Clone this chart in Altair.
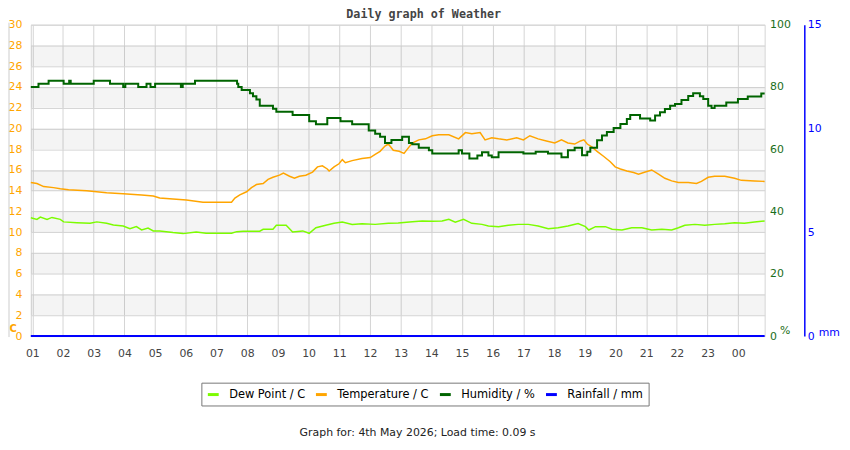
import pandas as pd
import altair as alt

## Readings, hour of day (1 = 01:00 ... 24 = 00:00 next day)
temp_hours = [0.95, 1.15, 1.37, 1.69, 1.91, 2.18, 2.77, 3.42, 3.96, 4.56,
              4.94, 5.15, 5.58, 6.02, 6.56, 7.49, 7.60, 7.76, 7.98, 8.14,
              8.30, 8.52, 8.68, 8.84, 9.05, 9.18, 9.38, 9.54, 9.70, 9.91,
              10.13, 10.29, 10.45, 10.61, 10.67, 10.83, 10.99, 11.10, 11.20, 11.42,
              11.74, 12.01, 12.17, 12.33, 12.49, 12.60, 12.76, 12.95, 13.11, 13.27,
              13.38, 13.59, 13.81, 14.03, 14.24, 14.57, 14.89, 15.11, 15.32, 15.59,
              15.75, 15.97, 16.19, 16.46, 16.78, 17.00, 17.21, 17.48, 17.75, 18.02,
              18.24, 18.45, 18.67, 18.86, 18.97, 19.08, 19.24, 19.40, 19.62, 19.83,
              19.99, 20.16, 20.37, 20.59, 20.75, 20.97, 21.18, 21.40, 21.61, 21.83,
              22.05, 22.37, 22.64, 22.80, 23.02, 23.23, 23.56, 23.88, 24.10, 24.53,
              24.86]
temp_c = [14.8, 14.7, 14.4, 14.3, 14.2, 14.1, 14.0, 13.8, 13.7, 13.6,
          13.5, 13.3, 13.2, 13.1, 12.9, 12.9, 13.3, 13.6, 13.9, 14.3,
          14.6, 14.7, 15.1, 15.3, 15.5, 15.7, 15.4, 15.2, 15.4, 15.5,
          15.8, 16.3, 16.4, 16.1, 15.9, 16.3, 16.6, 17.0, 16.7, 16.9,
          17.1, 17.2, 17.5, 17.8, 18.3, 18.5, 17.9, 17.8, 17.6, 18.2,
          18.6, 18.9, 19.0, 19.3, 19.4, 19.4, 19.0, 19.6, 19.5, 19.6,
          18.9, 19.1, 19.0, 18.9, 19.1, 18.9, 19.3, 19.0, 18.8, 18.6,
          18.9, 18.6, 18.5, 18.8, 18.9, 18.5, 18.2, 17.8, 17.3, 16.8,
          16.3, 16.1, 15.9, 15.75, 15.6, 15.8, 16.0, 15.6, 15.2, 14.95,
          14.8, 14.8, 14.7, 14.9, 15.3, 15.4, 15.4, 15.2, 15.0, 14.95,
          14.9]

dew_hours = [0.95, 1.15, 1.26, 1.48, 1.64, 1.91, 2.02, 2.45, 2.88, 3.10,
             3.42, 3.64, 3.96, 4.18, 4.39, 4.56, 4.77, 4.94, 5.15, 5.58,
             5.91, 6.34, 6.66, 7.49, 7.66, 7.87, 8.41, 8.52, 8.84, 8.95,
             9.27, 9.48, 9.81, 10.02, 10.24, 10.56, 10.83, 11.10, 11.42, 11.74,
             12.17, 12.60, 12.92, 13.38, 13.70, 14.03, 14.35, 14.57, 14.78, 15.05,
             15.32, 15.65, 15.86, 16.19, 16.51, 16.83, 17.16, 17.48, 17.81, 18.13,
             18.45, 18.78, 19.02, 19.13, 19.35, 19.67, 19.89, 20.21, 20.53, 20.86,
             21.18, 21.51, 21.83, 22.05, 22.26, 22.59, 22.91, 23.23, 23.56, 23.88,
             24.20, 24.53, 24.86]
dew_c = [11.4, 11.24, 11.46, 11.24, 11.43, 11.24, 11.0, 10.92, 10.86, 11.0,
         10.86, 10.7, 10.6, 10.35, 10.54, 10.22, 10.41, 10.13, 10.13, 9.97,
         9.87, 10.03, 9.9, 9.9, 10.06, 10.1, 10.1, 10.29, 10.29, 10.67,
         10.67, 10.03, 10.13, 9.9, 10.44, 10.67, 10.86, 10.98, 10.76, 10.83,
         10.76, 10.86, 10.9, 11.02, 11.08, 11.05, 11.08, 11.24, 10.98, 11.24,
         10.86, 10.76, 10.6, 10.54, 10.67, 10.76, 10.76, 10.6, 10.35, 10.44,
         10.6, 10.83, 10.54, 10.22, 10.54, 10.54, 10.29, 10.22, 10.44, 10.44,
         10.22, 10.29, 10.22, 10.44, 10.67, 10.76, 10.67, 10.76, 10.83, 10.92,
         10.86, 10.98, 11.08]

hum_hours = [0.95, 1.20, 1.53, 2.02, 2.20, 2.25, 3.00, 3.53, 3.96, 4.03,
             4.45, 4.72, 4.85, 5.00, 5.84, 5.90, 6.30, 7.67, 7.71, 7.82,
             8.09, 8.19, 8.30, 8.41, 8.84, 8.95, 9.48, 10.02, 10.24, 10.61,
             11.04, 11.42, 11.96, 12.17, 12.33, 12.49, 12.70, 13.05, 13.27, 13.38,
             13.59, 13.92, 14.03, 14.89, 15.00, 15.24, 15.50, 15.65, 15.86, 15.97,
             16.19, 17.00, 17.40, 17.80, 18.24, 18.45, 18.67, 18.91, 19.08, 19.18,
             19.40, 19.56, 19.72, 19.94, 20.16, 20.37, 20.48, 20.80, 21.13, 21.29,
             21.45, 21.61, 21.78, 21.94, 22.15, 22.37, 22.53, 22.75, 22.86, 23.02,
             23.13, 23.23, 23.61, 23.99, 24.31, 24.75, 24.86]
hum_pct = [80, 81, 82, 81, 82, 81, 82, 81, 80, 81,
           80, 81, 80, 81, 80, 81, 82, 81, 80, 79,
           78, 77, 76, 74, 73, 72, 71, 69, 68, 70,
           69, 68, 66, 65, 64, 62, 63, 64, 62, 61.6,
           60.5, 59.7, 58.6, 59.7, 58.6, 57, 58, 59, 58, 57.4,
           59, 58.6, 59.2, 58.6, 57.4, 59.7, 60.5, 58.1, 59.2, 60.5,
           62.9, 64.4, 65.5, 66.8, 68.1, 69.7, 71.0, 69.9, 69.2, 70.8,
           71.9, 72.9, 74.0, 74.5, 75.8, 77.1, 78.0, 77.0, 76.1, 74.0,
           73.2, 74.0, 75.0, 76.1, 76.9, 77.9, 77.9]

rain_hours = [0.95, 24.86]
rain_mm = [0.0, 0.0]

hour_span = [0.95, 24.86]
hour_ticks = list(range(1, 25))
temp_ticks = list(range(0, 31, 2))
hum_ticks = [0, 20, 40, 60, 80, 100]
rain_ticks = [0, 5, 10, 15]
band_lo = list(range(2, 27, 4))

series_names = ["Dew Point / C", "Temperature / C", "Humidity / %", "Rainfall / mm"]
series_colors = ["#7cfc00", "#ffa500", "#006400", "#0000ff"]

## Build the frames
left_df = pd.concat([
    pd.DataFrame({"hour": dew_hours, "value": dew_c, "series": series_names[0]}),
    pd.DataFrame({"hour": temp_hours, "value": temp_c, "series": series_names[1]}),
])
hum_df = pd.DataFrame({"hour": hum_hours, "value": hum_pct, "series": series_names[2]})
rain_df = pd.DataFrame({"hour": rain_hours, "value": rain_mm, "series": series_names[3]})
bands_df = pd.DataFrame({"lo": band_lo, "hi": [b + 2 for b in band_lo],
                         "x0": hour_span[0], "x1": hour_span[1]})
one_row = pd.DataFrame({"t": ["Graph for: 4th May 2026; Load time: 0.09 s"]})

W, H = 740, 314
GRID = "#d4d4d4"

x_scale = alt.Scale(domain=hour_span, nice=False, zero=False)
x_axis = alt.Axis(values=hour_ticks, title=None, grid=True, gridColor=GRID,
                  domain=False, ticks=False, labelColor="#444444",
                  labelFontSize=11, labelPadding=12,
                  labelExpr="datum.value % 24 < 10 ? '0' + (datum.value % 24) : '' + (datum.value % 24)")
x_enc = alt.X("hour:Q", scale=x_scale, axis=x_axis)

left_scale = alt.Scale(domain=[0, 30], nice=False, zero=True)
left_axis = alt.Axis(orient="left", values=temp_ticks, grid=True, gridColor=GRID,
                     domain=False, ticks=False, labelColor="#ffa500", labelFontSize=11,
                     labelPadding=9, title="C", titleAngle=0, titleX=-22, titleY=H - 3,
                     titleAlign="left", titleBaseline="bottom", titleColor="#ffa500",
                     titleFontSize=10, titleFontWeight="bold")

color_enc = alt.Color("series:N", scale=alt.Scale(domain=series_names, range=series_colors),
                      legend=alt.Legend(title=None, orient="none", direction="horizontal",
                                        columns=4, legendX=172, legendY=361,
                                        strokeColor="#777777", fillColor="white", padding=5,
                                        symbolType="stroke", symbolStrokeWidth=3,
                                        symbolSize=120, labelFontSize=11.5, labelColor="#000000",
                                        labelOffset=9, columnPadding=4))

# grey bands behind every other 2 C step
bands = alt.Chart(bands_df).mark_rect(color="#000000", opacity=0.045).encode(
    x=alt.X("x0:Q", scale=x_scale, axis=x_axis),
    x2="x1:Q",
    y=alt.Y("lo:Q", scale=left_scale, axis=left_axis),
    y2="hi:Q",
)

# thin line at the far left, beyond the labels
left_rule = alt.Chart(one_row).mark_rule(color="#cccccc").encode(
    x=alt.value(-22), y=alt.value(-2), y2=alt.value(H + 1)
)

footer = alt.Chart(one_row).mark_text(fontSize=11, color="#222222", align="center",
                                      baseline="middle").encode(
    x=alt.value(390), y=alt.value(412), text="t:N"
)

temp_lines = alt.Chart(left_df).mark_line(strokeWidth=1.5).encode(
    x=x_enc,
    y=alt.Y("value:Q", scale=left_scale, axis=left_axis),
    color=color_enc,
    detail="series:N",
)

left_group = alt.layer(bands, left_rule, footer, temp_lines)

hum_line = alt.Chart(hum_df).mark_line(strokeWidth=2, interpolate="step-after").encode(
    x=x_enc,
    y=alt.Y("value:Q", scale=alt.Scale(domain=[0, 100], nice=False),
            axis=alt.Axis(orient="right", values=hum_ticks, grid=False, domain=False,
                          ticks=False, labelColor="#1a6e1a", labelFontSize=11, labelPadding=5,
                          title="%", titleAngle=0, titleX=15, titleY=H - 1, titleAlign="left",
                          titleBaseline="bottom", titleColor="#1a6e1a", titleFontSize=11,
                          titleFontWeight="normal")),
    color=color_enc,
)

rain_line = alt.Chart(rain_df).mark_line(strokeWidth=2).encode(
    x=x_enc,
    y=alt.Y("value:Q", scale=alt.Scale(domain=[0, 15], nice=False),
            axis=alt.Axis(orient="right", offset=40, values=rain_ticks, grid=False,
                          domain=True, domainColor="#0000ff", domainWidth=1.5, ticks=False,
                          labelColor="#0000ff", labelFontSize=11, labelPadding=3,
                          title="mm", titleAngle=0, titleX=14, titleY=H + 1,
                          titleAlign="left", titleBaseline="bottom", titleColor="#0000ff",
                          titleFontSize=11, titleFontWeight="normal")),
    color=color_enc,
)

chart = alt.layer(left_group, hum_line, rain_line).resolve_scale(
    y="independent"
).properties(
    width=W, height=H,
    autosize=alt.AutoSizeParams(type="none"),
    padding={"left": 23, "top": 15, "right": 78, "bottom": 103},
    title=alt.Title("Daily graph of Weather", font="DejaVu Sans Mono", fontSize=11.8,
                    fontWeight="bold", color="#444444", anchor="middle", frame="bounds",
                    offset=0, dy=2),
).configure(
    font="DejaVu Sans"
).configure_view(
    stroke=GRID
)

chart.save("out.html", embed_options={"renderer": "svg", "actions": False})
